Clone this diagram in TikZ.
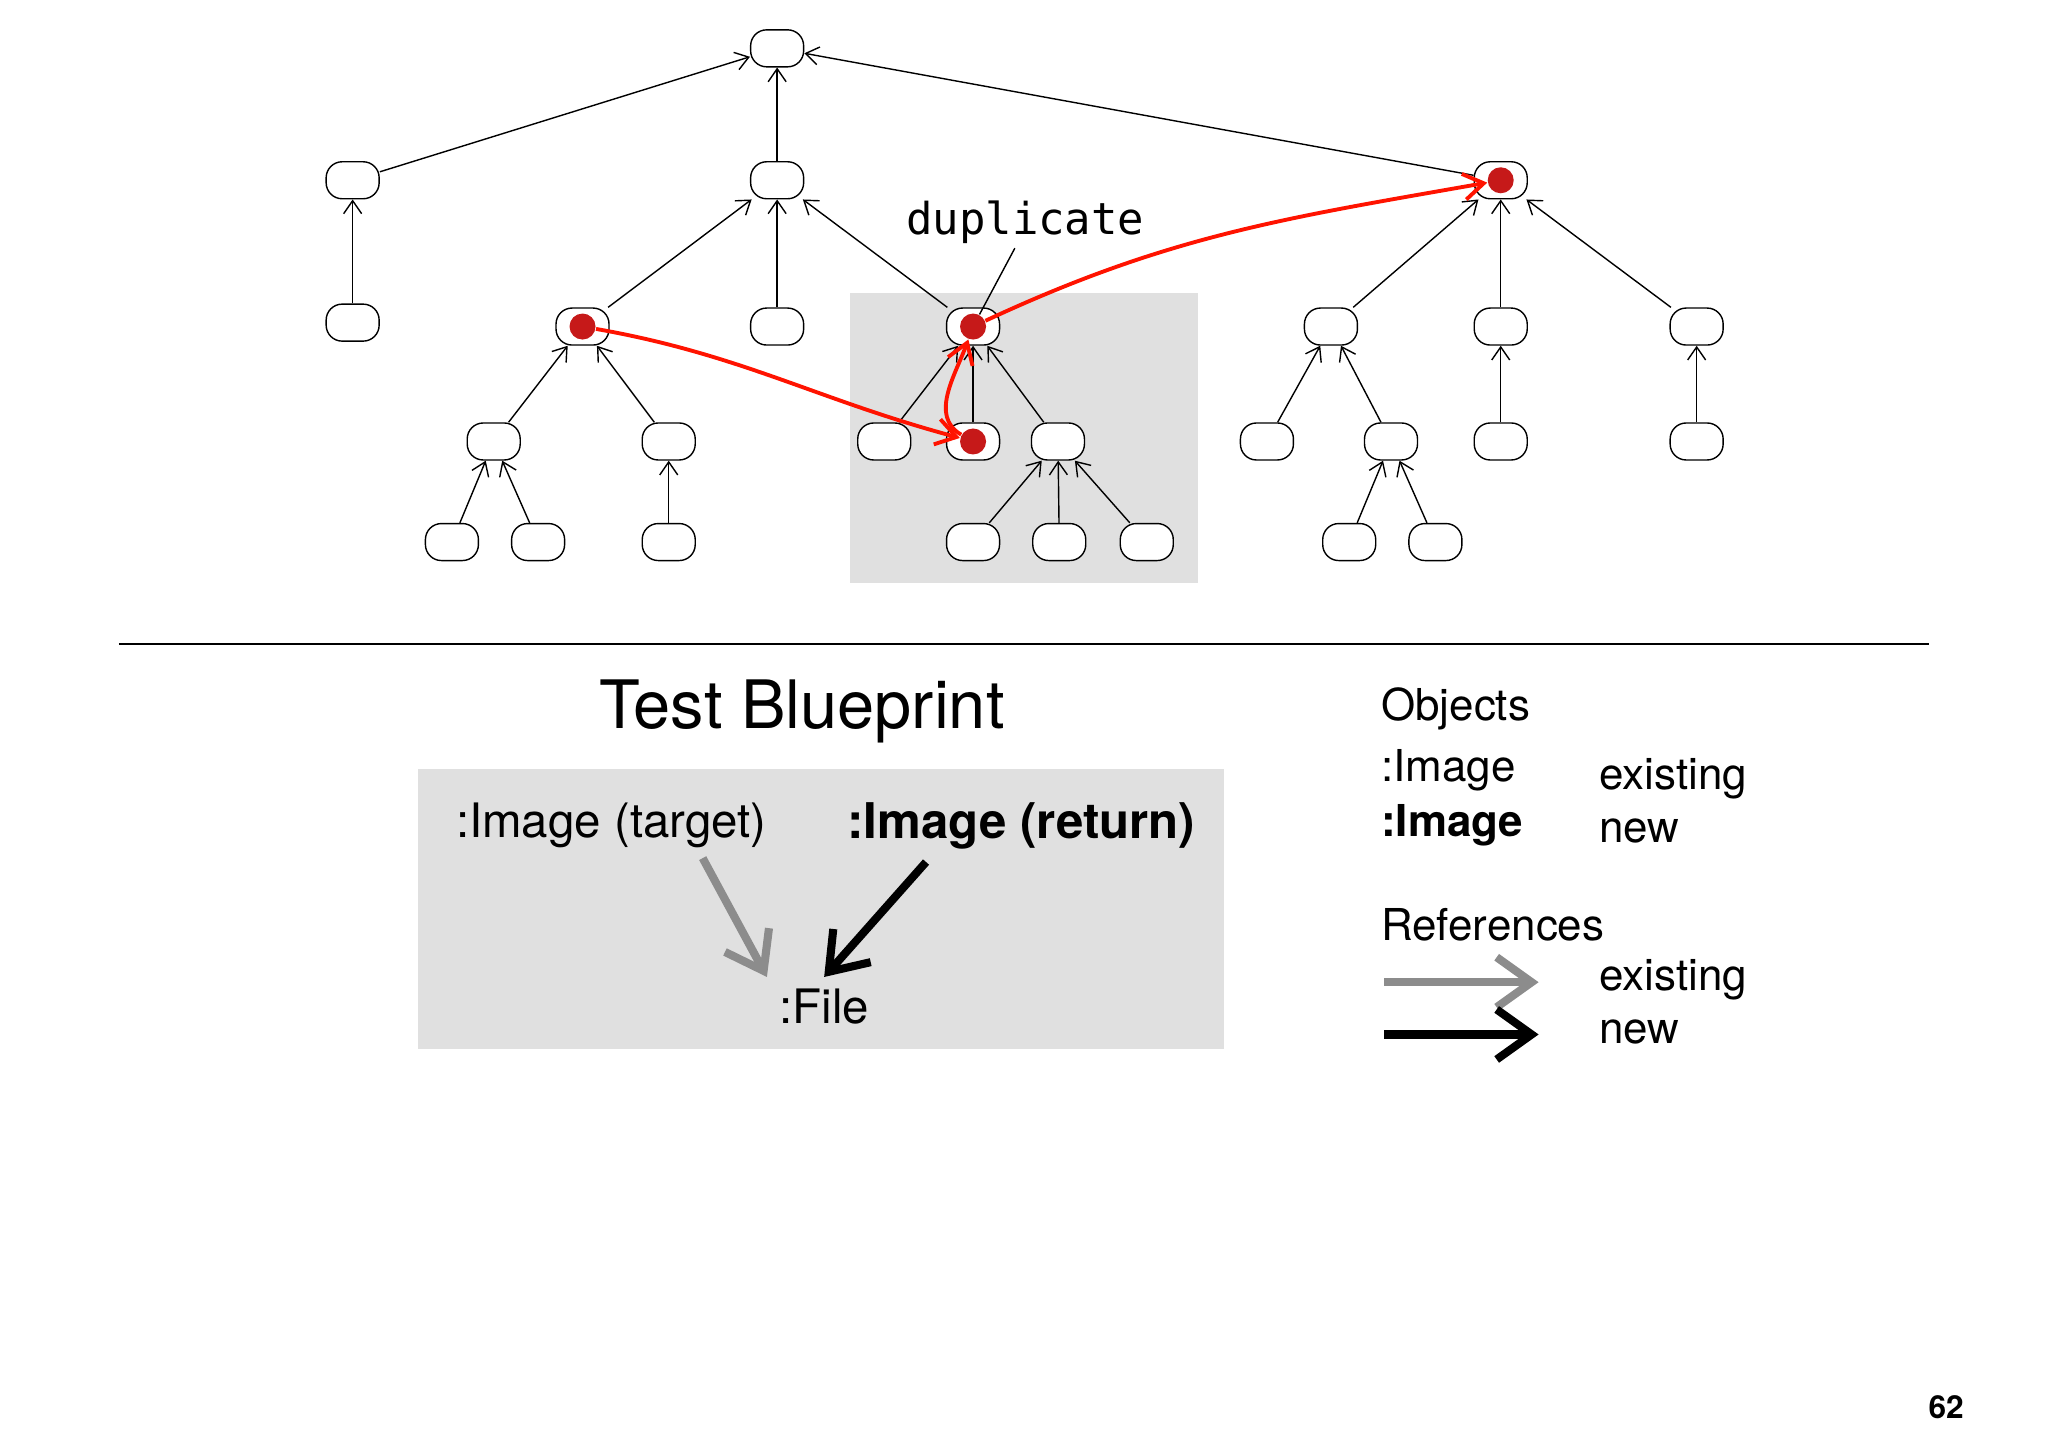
\documentclass[tikz,border=0pt]{standalone}
\usepackage{fontspec}
\setmainfont{TeX Gyre Heros}
\newfontfamily\dupfont{DejaVu Sans Mono}
\usetikzlibrary{arrows.meta}
\begin{document}
\begin{tikzpicture}[x=0.01306cm, y=-0.01306cm,
    obj/.style={rectangle, draw, rounded corners=1.6mm, fill=white, minimum width=0.53cm, minimum height=0.37cm, inner sep=0pt},
    dot/.style={circle, fill=red!75!black!90, minimum size=0.26cm, inner sep=0pt},
    ref/.style={-{Straight Barb[length=1.3mm, width=1.8mm]}, thin},
    redref/.style={-{Straight Barb[length=2mm, width=2.6mm]}, line width=1.1pt, draw=red!85!orange},
    bigref/.style={-{Straight Barb[length=3.5mm, width=5mm]}, line width=2.3pt}]
    \useasboundingbox (0,0) rectangle (1568,1109);
    % background boxes
    \fill[black!12] (651,224) rectangle (917,446);
    \fill[black!12] (320,589) rectangle (937,803);
    % Nodes
    \node[obj] (root) at (595,37) {};
    \node[obj] (a) at (270,138) {};
    \node[obj] (b) at (595,138) {};
    \node[obj] (c) at (1149,138) {};
    \node[obj] (a1) at (270,247) {};
    \node[obj] (b1) at (446,250) {};
    \node[obj] (b2) at (595,250) {};
    \node[obj] (b3) at (745,250) {};
    \node[obj] (b11) at (378,338) {};
    \node[obj] (b12) at (512,338) {};
    \node[obj] (b111) at (346,415) {};
    \node[obj] (b112) at (412,415) {};
    \node[obj] (b121) at (512,415) {};
    \node[obj] (b31) at (677,338) {};
    \node[obj] (b32) at (745,338) {};
    \node[obj] (b33) at (810,338) {};
    \node[obj] (b331) at (745,415) {};
    \node[obj] (b332) at (811,415) {};
    \node[obj] (b333) at (878,415) {};
    \node[obj] (c1) at (1019,250) {};
    \node[obj] (c2) at (1149,250) {};
    \node[obj] (c3) at (1299,250) {};
    \node[obj] (c11) at (970,338) {};
    \node[obj] (c12) at (1065,338) {};
    \node[obj] (c121) at (1033,415) {};
    \node[obj] (c122) at (1099,415) {};
    \node[obj] (c21) at (1149,338) {};
    \node[obj] (c31) at (1299,338) {};

    % References
    \foreach \child/\parent in {a/root, b/root, c/root, a1/a, b1/b, b2/b, b3/b,
        b11/b1, b12/b1, b111/b11, b112/b11, b121/b12, b31/b3, b32/b3, b33/b3,
        b331/b33, b332/b33, b333/b33, c1/c, c2/c, c3/c, c11/c1, c12/c1,
        c121/c12, c122/c12, c21/c2, c31/c3}
        \draw[ref] (\child) -- (\parent);

    % duplicated objects
    \node[dot] (b1d) at (b1) {};
    \node[dot] (b3d) at (b3) {};
    \node[dot] (b32d) at (b32) {};
    \node[dot] (cd) at (c) {};
    \draw[redref] (b1d) to[out=-10, in=165] (b32d);
    \draw[redref] (b32d) to[out=150, in=-110] (b3d);
    \draw[redref] (b3d) to[out=25, in=190] (cd);

    \node[font=\dupfont\fontsize{12.5}{15}\selectfont] (dup) at (785,170) {duplicate};
    \draw[thin] (777,190) -- (b3d);

    \draw[thick] (91,493) -- (1477,493);

    % Test blueprint
    \node[font=\fontsize{19}{22}\selectfont] (title) at (614,545) {Test Blueprint};
    \node[font=\fontsize{13.5}{16}\selectfont] (target) at (468,632) {:Image (target)};
    \node[font=\bfseries\fontsize{14}{16}\selectfont] (ret) at (782,632) {:Image (return)};
    \node[font=\fontsize{13.5}{16}\selectfont] (file) at (631,771) {:File};
    \draw[bigref, black!45] (538,657) -- (file.north west);
    \draw[bigref] (709,660) -- (file.north);

    % legend
    \begin{scope}[every node/.style={anchor=west, font=\fontsize{12.5}{15}\selectfont}]
    \node (objects) at (1048,543) {Objects};
    \node (oldimg) at (1048,590) {:Image};
    \node[font=\bfseries\fontsize{12.5}{15}\selectfont] (newimg) at (1048,632) {:Image};
    \node (oldtxt) at (1215,596) {existing};
    \node (newtxt) at (1215,636) {new};
    \node (refs) at (1048,708) {References};
    \node (oldref) at (1215,750) {existing};
    \node (newref) at (1215,790) {new};
    \end{scope}
    \coordinate (g0) at (1060,752);
    \coordinate (g1) at (1178,752);
    \coordinate (k0) at (1060,792);
    \coordinate (k1) at (1178,792);
    \draw[bigref, black!45] (g0) -- (g1);
    \draw[bigref] (k0) -- (k1);

    \node[font=\bfseries\fontsize{9}{11}\selectfont] (page) at (1490,1077) {62};
\end{tikzpicture}
\end{document}
